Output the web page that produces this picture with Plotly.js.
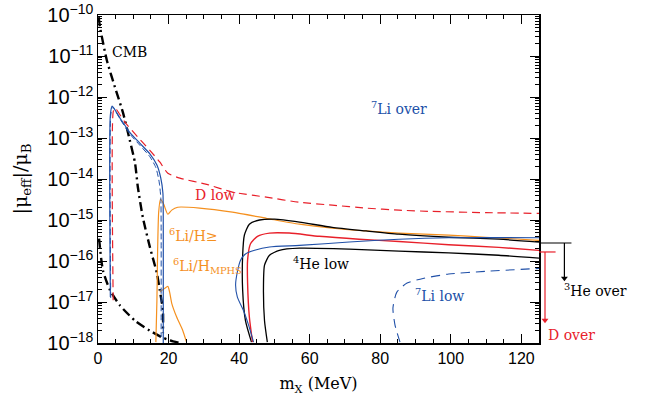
<!DOCTYPE html>
<html><head><meta charset="utf-8">
<script src="https://cdn.plot.ly/plotly-3.0.1.min.js"></script>
<style>html,body{margin:0;padding:0;background:#fff}#plot{width:654px;height:410px}</style>
</head><body><div id="plot"></div>
<script>
// ---- data (x: MeV, y: |mu_eff|/mu_B) ----
const cmbUpperX = [0.2, 0.56, 2.5, 4.8, 7.1, 9.0, 10.5, 11.3, 12.7, 14.7, 16.7, 17.5, 18.4, 18.4];
const cmbUpperY = [8.9e-11, 5.1e-11, 7.9e-12, 1.74e-12, 4.1e-13, 8.9e-14, 2.45e-14, 6.3e-15, 1.17e-15, 2.2e-16, 5.0e-17, 1.95e-17, 6.3e-18, 1.74e-18];
const cmbLowerX = [0.3, 1.4, 3.4, 6.2, 10.5, 14.7, 18.1, 20.3, 23.2];
const cmbLowerY = [3.5e-16, 5.9e-17, 1.95e-17, 8.3e-18, 3.5e-18, 2.0e-18, 1.38e-18, 1.17e-18, 1.0e-18];

const li7OverX = [3.5, 3.5, 4.0, 6.2, 9.0, 11.9, 14.7, 16.7, 17.8, 18.4, 18.5, 18.5, 18.5];
const li7OverY = [1.32e-17, 3.6e-13, 6.0e-13, 3.1e-13, 1.38e-13, 7.4e-14, 4.1e-14, 2.2e-14, 1.05e-14, 4.5e-15, 5.6e-16, 1.1e-17, 1.0e-18];
const li7OverDashX = [3.6, 3.6, 4.1, 6.2, 9.0, 11.9, 14.7, 16.4, 17.3, 17.8, 17.9, 17.9, 17.9];
const li7OverDashY = [1.26e-17, 3.5e-13, 5.8e-13, 2.95e-13, 1.26e-13, 6.6e-14, 3.5e-14, 1.9e-14, 8.9e-15, 3.5e-15, 5.0e-16, 1.0e-17, 1.4e-18];

const dLowX = [4.3, 4.3, 4.8, 7.6, 11.3, 14.7, 17.5, 19.8, 23.2, 30.8, 38.1, 47.7, 57.1, 66.4, 76.0, 85.3, 94.6, 110, 125];
const dLowY = [1.1e-17, 4.3e-13, 5.4e-13, 2.45e-13, 1.05e-13, 5.0e-14, 2.6e-14, 1.38e-14, 1.05e-14, 7.4e-15, 4.8e-15, 3.6e-15, 2.7e-15, 2.3e-15, 1.95e-15, 1.74e-15, 1.62e-15, 1.51e-15, 1.45e-15];

const li6MainX = [16.4, 16.7, 16.9, 17.2, 17.7, 18.6, 19.8, 20.9, 22.6, 28.8, 38.1, 47.7, 57.1, 66.4, 76.0, 85.3, 99.4, 109.9, 125];
const li6MainY = [1.05e-18, 1.1e-17, 1.82e-16, 1.55e-15, 3.2e-15, 2.45e-15, 1.38e-15, 1.74e-15, 2.05e-15, 1.95e-15, 1.55e-15, 1.1e-15, 7.9e-16, 6.3e-16, 5.4e-16, 4.8e-16, 4.3e-16, 3.8e-16, 3.2e-16];
const li6LobeX = [17.5, 18.9, 19.8, 20.3, 20.9, 22.3, 24.0, 25.1];
const li6LobeY = [1.74e-17, 2.15e-17, 2.4e-17, 1.74e-17, 9.3e-18, 4.3e-18, 2.05e-18, 1.05e-18];

const he3X = [43.5, 41.8, 41.0, 41.0, 41.5, 42.9, 45.8, 50.0, 57.1, 66.4, 76.0, 85.3, 99.4, 113.6, 125];
const he3Y = [1.05e-18, 3.5e-18, 1.95e-17, 1.38e-16, 4.3e-16, 7.9e-16, 1.0e-15, 1.05e-15, 8.9e-16, 6.6e-16, 5.4e-16, 4.5e-16, 3.8e-16, 3.4e-16, 2.9e-16];
const he4X = [48.0, 47.2, 46.9, 47.2, 48.6, 51.4, 57.1, 71.2, 85.3, 99.4, 113.6, 125];
const he4Y = [1.05e-18, 3.5e-18, 1.95e-17, 7.9e-17, 1.38e-16, 1.82e-16, 2.05e-16, 1.95e-16, 1.74e-16, 1.58e-16, 1.38e-16, 1.17e-16];

const dOverX = [43.8, 42.9, 42.4, 42.4, 43.2, 45.2, 48.6, 54.2, 62.7, 74.0, 85.3, 99.4, 113.6, 125];
const dOverY = [1.05e-18, 4.3e-18, 2.9e-17, 1.05e-16, 2.6e-16, 4.0e-16, 4.8e-16, 4.8e-16, 4.0e-16, 3.4e-16, 3.0e-16, 2.5e-16, 2.15e-16, 1.82e-16];

const li7RightX = [44.1, 42.7, 41.2, 39.5, 39.0, 39.5, 40.4, 41.8, 44.4, 48.6, 57.1, 71.2, 85.3, 99.4, 125];
const li7RightY = [1.05e-18, 2.7e-18, 6.3e-18, 1.32e-17, 2.6e-17, 5.4e-17, 1.05e-16, 1.48e-16, 1.82e-16, 2.2e-16, 2.4e-16, 2.9e-16, 3.4e-16, 3.7e-16, 3.7e-16];

const li7LowX = [85.6, 84.2, 83.6, 84.7, 87.6, 92.4, 99.4, 109.9, 125];
const li7LowY = [1.05e-18, 2.7e-18, 7.1e-18, 1.74e-17, 2.9e-17, 3.8e-17, 4.8e-17, 5.6e-17, 6.6e-17];

// arrows outside the frame (same MeV scale)
const he3BarX = [125, 134.2];
const he3BarY = [2.75e-16, 2.75e-16];
const he3ArrX = [132.2, 132.2];
const he3ArrY = [2.75e-16, 3.8e-17];
const dBarX = [125, 129.7];
const dBarY = [1.66e-16, 1.66e-16];
const dArrX = [126.7, 126.7];
const dArrY = [1.66e-16, 3.6e-18];

const tickLabelsX = ['0', '20', '40', '60', '80', '100', '120'];

// ---- styling ----
const RED = '#e8202a', BLUE = '#2050a8', ORANGE = '#f5901e', BLACK = '#000000';
function ln(x, y, color, width, dash) {
  return {x: x, y: y, type: 'scatter', mode: 'lines',
    line: {color: color, width: width, dash: dash || 'solid', shape: 'spline', smoothing: 0.6},
    hoverinfo: 'skip', showlegend: false, xaxis: 'x', yaxis: 'y'};
}
function outLine(x, y, color) {
  return {x: x, y: y, type: 'scatter', mode: 'lines', line: {color: color, width: 1.2},
    hoverinfo: 'skip', showlegend: false, xaxis: 'x2', yaxis: 'y2'};
}
const traces = [
  ln(cmbUpperX, cmbUpperY, BLACK, 2.4, '9px,4px,2px,4px'),
  ln(cmbLowerX, cmbLowerY, BLACK, 2.4, '9px,4px,2px,4px'),
  ln(li6MainX, li6MainY, ORANGE, 1.2),
  ln(li6LobeX, li6LobeY, ORANGE, 1.2),
  ln(he3X, he3Y, BLACK, 1.3),
  ln(he4X, he4Y, BLACK, 1.3),
  ln(dOverX, dOverY, RED, 1.4),
  ln(li7RightX, li7RightY, BLUE, 1.1),
  ln(li7LowX, li7LowY, BLUE, 1.1, '9px,6px'),
  ln(dLowX, dLowY, RED, 1.2, '8px,5px'),
  ln(li7OverDashX, li7OverDashY, BLUE, 1.0, '6px,3px'),
  ln(li7OverX, li7OverY, BLUE, 1.2),
  outLine(he3BarX, he3BarY, BLACK),
  outLine(he3ArrX, he3ArrY, BLACK),
  outLine(dBarX, dBarY, RED),
  outLine(dArrX, dArrY, RED),
  {x: [he3ArrX[1], dArrX[1]], y: [he3ArrY[1], dArrY[1]], type: 'scatter', mode: 'markers',
   marker: {symbol: 'triangle-down', size: 6, color: [BLACK, RED]}, cliponaxis: false,
   xaxis: 'x2', yaxis: 'y2', hoverinfo: 'skip', showlegend: false}
];

const W = 654, L = 98, R = 10, T = 15, B = 67;
const plotW = W - L - R;
const frameRight = 539;
const dEnd = (frameRight - L) / plotW;
const xMax = 125;

const serif = 'DejaVu Serif, Liberation Serif, serif';
function lab(text, px, py, color, size) {
  return {text: text, xref: 'paper', yref: 'paper', x: (px - L) / plotW, y: (410 - B - py) / (410 - B - T),
    xanchor: 'left', yanchor: 'middle', showarrow: false,
    font: {family: serif, size: size || 14, color: color}};
}

const layout = {
  width: 654, height: 410,
  margin: {l: L, r: R, t: T, b: B},
  paper_bgcolor: '#fff', plot_bgcolor: 'rgba(0,0,0,0)',
  showlegend: false,
  xaxis: {
    domain: [0, dEnd], range: [0, xMax], type: 'linear', anchor: 'y',
    tickmode: 'array', tickvals: [0, 20, 40, 60, 80, 100, 120], ticktext: tickLabelsX,
    ticks: 'inside', ticklen: 9, tickwidth: 1, tickcolor: '#000',
    minor: {dtick: 5, tick0: 0, ticks: 'inside', ticklen: 4, tickwidth: 1, tickcolor: '#000'},
    showline: true, linecolor: '#000', linewidth: 1.5, mirror: 'allticks',
    showgrid: false, zeroline: false,
    tickfont: {family: 'Liberation Sans, Arial, sans-serif', size: 16, color: '#000'},
    title: {text: 'm<sub>X</sub> (MeV)', standoff: 12, font: {family: serif, size: 16, color: '#000'}}
  },
  xaxis2: {domain: [0, 1], range: [0, xMax / dEnd], visible: false, anchor: 'y2', showgrid: false, zeroline: false},
  yaxis: {
    type: 'log', range: [-18, -10], dtick: 1, exponentformat: 'power', anchor: 'x',
    ticks: 'inside', ticklen: 9, tickwidth: 1, tickcolor: '#000',
    minor: {dtick: 'D1', ticks: 'inside', ticklen: 4, tickwidth: 1, tickcolor: '#000'},
    showline: true, linecolor: '#000', linewidth: 1.5, mirror: 'allticks',
    showgrid: false, zeroline: false,
    tickfont: {family: 'Liberation Sans, Arial, sans-serif', size: 16, color: '#000'},
    title: {text: '|μ<sub>eff</sub>|/μ<sub>B</sub>', standoff: 14, font: {family: serif, size: 19, color: '#000'}}
  },
  yaxis2: {type: 'log', range: [-18, -10], overlaying: 'y', anchor: 'x2', visible: false, showgrid: false, zeroline: false},
  annotations: [
    lab('CMB', 110, 52, BLACK),
    lab('<sup>7</sup>Li over', 369, 108, BLUE),
    lab('D low', 193, 195, RED),
    lab('<sup>6</sup>Li/H≥', 167, 235, ORANGE),
    lab('<sup>6</sup>Li/H<sub>MPHS</sub>', 171, 266, ORANGE),
    lab('<sup>4</sup>He low', 291, 263, BLACK),
    lab('<sup>7</sup>Li low', 413, 295, BLUE),
    lab('<sup>3</sup>He over', 562, 290, BLACK),
    lab('D over', 546, 335, RED)
  ]
};

Plotly.newPlot('plot', traces, layout, {staticPlot: true, displayModeBar: false});
</script>
</body></html>
